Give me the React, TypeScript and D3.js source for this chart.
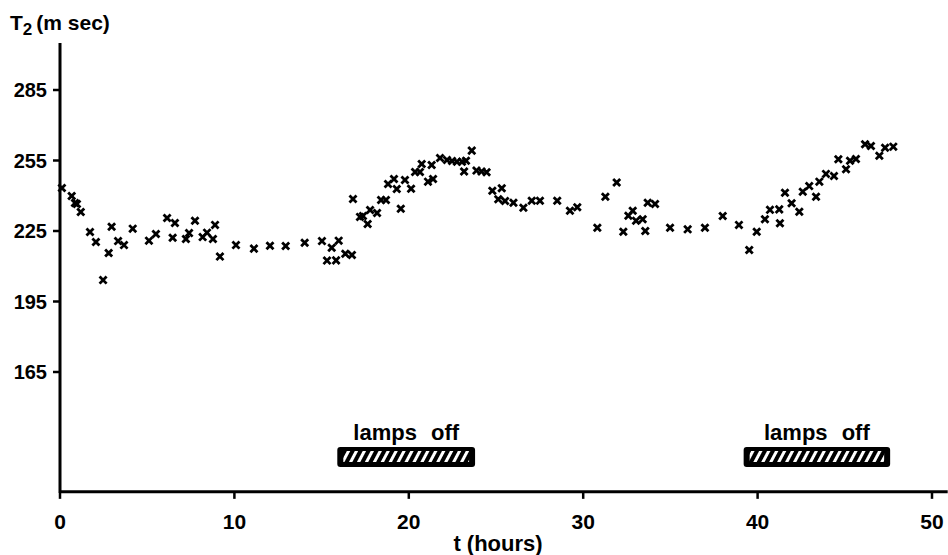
import React, { useRef, useEffect } from "react";
import * as d3 from "d3";

// T2 readings, time in hours
const hours = [
  0.11, 0.67, 0.86, 0.97, 1.19, 1.72, 2.06, 2.47, 2.79, 2.96, 3.33, 3.67, 4.17,
  5.1, 5.5, 6.14, 6.46, 6.59, 7.22, 7.4, 7.74, 8.18, 8.43, 8.77, 8.89, 9.17,
  10.09, 11.12, 12.04, 12.94, 14.03, 15.02, 15.31, 15.58, 15.83, 15.98, 16.36,
  16.74, 16.8, 17.2, 17.37, 17.64, 17.78, 18.18, 18.41, 18.69, 18.81, 19.15,
  19.31, 19.54, 19.78, 20.13, 20.36, 20.64, 20.74, 21.1, 21.39, 21.31, 21.79,
  22.19, 22.48, 22.76, 23.05, 23.28, 23.17, 23.61, 23.88, 24.17, 24.46, 24.79,
  25.13, 25.33, 25.52, 26.0, 26.57, 27.05, 27.52, 28.51, 29.24, 29.66, 30.81,
  31.27, 31.92, 32.3, 32.59, 32.84, 33.03, 33.41, 33.56, 33.7, 34.12, 34.98,
  35.99, 36.98, 38.0, 38.93, 39.52, 39.95, 40.42, 40.71, 41.24, 41.28, 41.57,
  41.95, 42.39, 42.59, 42.96, 43.35, 43.54, 43.92, 44.38, 44.63, 45.07, 45.3,
  45.64, 46.16, 46.5, 46.98, 47.31, 47.78,
];
const t2 = [
  243.3, 239.9, 236.9, 236.5, 233.1, 224.6, 220.3, 204.1, 215.6, 226.8, 220.7,
  219.0, 226.0, 220.9, 223.7, 230.5, 222.1, 228.4, 221.6, 224.1, 229.4, 222.4,
  224.3, 221.6, 227.6, 214.1, 219.0, 217.5, 218.7, 218.6, 220.0, 220.7, 212.4,
  217.9, 212.5, 220.9, 215.3, 214.8, 238.6, 231.0, 231.4, 228.0, 233.9, 232.7,
  238.2, 238.2, 245.0, 247.1, 242.9, 234.5, 246.7, 243.0, 250.1, 250.1, 253.5,
  246.0, 247.1, 253.1, 256.1, 255.2, 254.8, 254.5, 254.5, 254.9, 250.3, 259.2,
  250.7, 250.3, 250.0, 242.1, 238.5, 243.2, 237.8, 237.0, 234.9, 237.9, 237.9,
  237.9, 233.6, 235.1, 226.4, 239.6, 245.6, 224.7, 231.5, 233.6, 229.4, 230.0,
  225.0, 237.0, 236.5, 226.4, 225.7, 226.4, 231.4, 227.6, 216.9, 224.7, 230.0,
  234.0, 234.2, 228.3, 241.3, 236.8, 233.2, 241.7, 244.1, 239.6, 246.0, 249.3,
  248.4, 255.5, 251.3, 254.9, 255.6, 261.9, 261.2, 257.0, 260.4, 260.9,
];

const yTicks = [165, 195, 225, 255, 285];
const xTicks = [0, 10, 20, 30, 40, 50];
const lampStart = [15.9, 39.2];
const lampEnd = [23.8, 47.6];
const lampLabel = "lamps off";

const T2Chart = ({ width = 948, height = 555 }) => {
  const ref = useRef<SVGSVGElement>(null);

  useEffect(() => {
    const container = ref.current;
    if (!container) return;
    const svg = d3.select(container);
    svg.selectChildren().remove();

    const x = d3.scaleLinear().domain([0, 50]).range([60, 932]);
    const y = d3.scaleLinear().domain([165, 285]).range([372, 90]);
    const x0 = x(0);
    const yBase = y(114);

    // hatch for the "lamps off" bars
    const pat = svg
      .append("defs")
      .append("pattern")
      .attr("id", "hatch")
      .attr("patternUnits", "userSpaceOnUse")
      .attr("width", 7)
      .attr("height", 7)
      .attr("patternTransform", "rotate(28)");
    pat.append("rect").attr("width", 7).attr("height", 7).attr("fill", "#000");
    pat.append("rect").attr("width", 3).attr("height", 7).attr("fill", "#fff");

    const g = svg
      .append("g")
      .style("font-family", "'Liberation Sans', Arial, sans-serif")
      .style("font-weight", "bold")
      .attr("fill", "#000");

    // axes
    g.append("line")
      .attr("x1", x0)
      .attr("x2", x0)
      .attr("y1", y(305))
      .attr("y2", yBase + 1)
      .attr("stroke", "#000")
      .attr("stroke-width", 3);
    g.append("line")
      .attr("x1", x0 - 1)
      .attr("x2", x(50.9))
      .attr("y1", yBase)
      .attr("y2", yBase)
      .attr("stroke", "#000")
      .attr("stroke-width", 3);

    // y ticks
    const yt = g.append("g").selectAll("g").data(yTicks).enter().append("g");
    yt.append("line")
      .attr("x1", x0 - 7)
      .attr("x2", x0)
      .attr("y1", (d) => y(d))
      .attr("y2", (d) => y(d))
      .attr("stroke", "#000")
      .attr("stroke-width", 2.5);
    yt.append("text")
      .attr("x", x0 - 13)
      .attr("y", (d) => y(d))
      .attr("dy", "0.36em")
      .attr("text-anchor", "end")
      .style("font-size", "20px")
      .text((d) => d);

    // x ticks
    const xt = g.append("g").selectAll("g").data(xTicks).enter().append("g");
    xt.append("line")
      .attr("x1", (d) => x(d))
      .attr("x2", (d) => x(d))
      .attr("y1", yBase)
      .attr("y2", yBase + 7)
      .attr("stroke", "#000")
      .attr("stroke-width", 2.5);
    xt.append("text")
      .attr("x", (d) => x(d))
      .attr("y", yBase + 37)
      .attr("text-anchor", "middle")
      .style("font-size", "21px")
      .text((d) => d);

    // axis titles
    g.append("text")
      .attr("x", 498)
      .attr("y", 551)
      .attr("text-anchor", "middle")
      .style("font-size", "22px")
      .text("t (hours)");
    const yl = g.append("text").attr("x", 10).attr("y", 30).style("font-size", "21px");
    yl.append("tspan").text("T");
    yl.append("tspan").attr("dy", 5).style("font-size", "17px").text("2");
    yl.append("tspan").attr("dy", -5).attr("dx", 4).text("(m sec)");

    // lamps off bars
    const lamps = g
      .append("g")
      .selectAll("g")
      .data(lampStart.map((s, i) => [s, lampEnd[i]]))
      .enter()
      .append("g");
    lamps
      .append("rect")
      .attr("x", (d) => x(d[0]))
      .attr("y", 447)
      .attr("width", (d) => x(d[1]) - x(d[0]))
      .attr("height", 20)
      .attr("rx", 3)
      .attr("fill", "#000");
    lamps
      .append("rect")
      .attr("x", (d) => x(d[0]) + 6)
      .attr("y", 451)
      .attr("width", (d) => x(d[1]) - x(d[0]) - 12)
      .attr("height", 11)
      .attr("fill", "url(#hatch)");
    lamps
      .append("text")
      .attr("x", (d) => (x(d[0]) + x(d[1])) / 2)
      .attr("y", 440)
      .attr("text-anchor", "middle")
      .style("font-size", "22px")
      .style("word-spacing", "8px")
      .text(lampLabel);

    // data points
    const sym = d3.symbol().type(d3.symbolX).size(34);
    g.append("g")
      .selectAll("path")
      .data(hours.map((h, i) => [h, t2[i]]))
      .enter()
      .append("path")
      .attr("transform", (d) => `translate(${x(d[0])}, ${y(d[1])})`)
      .attr("d", sym())
      .attr("fill", "none")
      .attr("stroke", "#000")
      .attr("stroke-width", 2.8);
  }, [width, height]);

  return <svg ref={ref} width={width} height={height} style={{ display: "block" }} />;
};

export default function App() {
  return (
    <div style={{ position: "absolute", left: 0, top: 0, background: "#fff" }}>
      <T2Chart />
    </div>
  );
}
